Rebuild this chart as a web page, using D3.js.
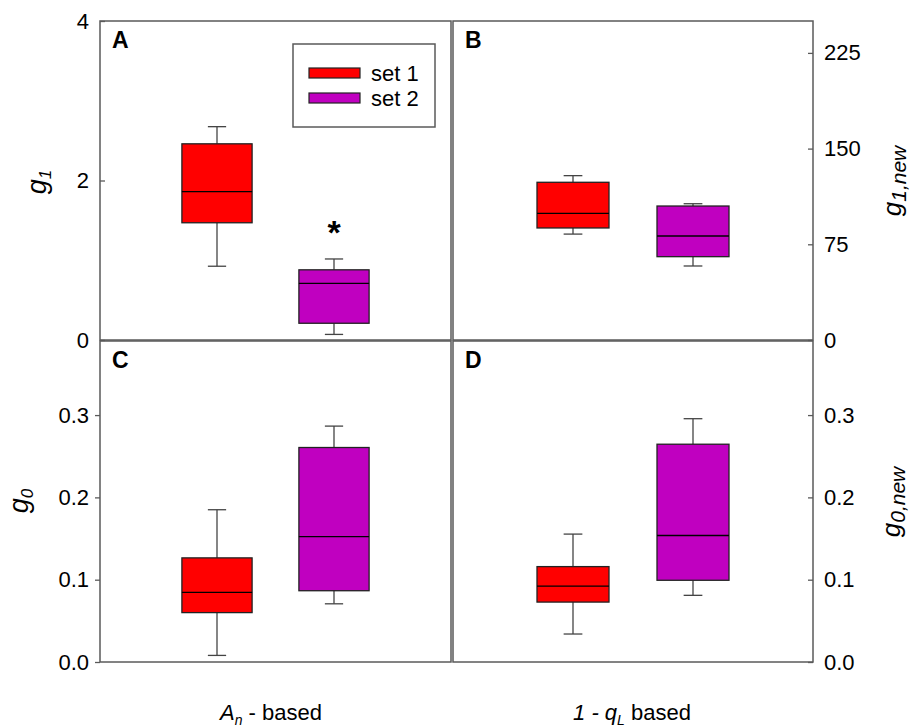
<!DOCTYPE html>
<html>
<head>
<meta charset="utf-8">
<script src="https://cdn.jsdelivr.net/npm/d3@7"></script>
<style>
  html, body { margin: 0; padding: 0; background: #fff; }
  svg { display: block; font-family: Arial, "Liberation Sans", sans-serif; }
</style>
</head>
<body>
<svg id="chart" width="914" height="727"></svg>
<script>
// Box statistics per series: [whisker low, Q1, median, Q3, whisker high]
const seriesNames = ["set 1", "set 2"];
const g1Stats    = [[0.925, 1.47, 1.86, 2.46, 2.675], [0.07, 0.21, 0.71, 0.88, 1.016]];
const g1NewStats = [[83, 87.8, 99.3, 123.6, 128.8], [58, 65.3, 81.5, 105, 106.8]];
const g0Stats    = [[0.008, 0.060, 0.0846, 0.1265, 0.185], [0.0707, 0.0866, 0.1524, 0.2606, 0.2866]];
const g0NewStats = [[0.034, 0.0728, 0.0923, 0.1159, 0.1554], [0.081, 0.0993, 0.1537, 0.2646, 0.2956]];
const g1Ticks    = [0, 2, 4];
const g1NewTicks = [0, 75, 150, 225];
const g0Ticks    = [0.0, 0.1, 0.2, 0.3];
const panelLetters = ["A", "B", "C", "D"];
const significantSeries = ["set 2"]; // marked with an asterisk in panel A

const colors = d3.scaleOrdinal().domain(seriesNames).range(["#ff0000", "#c000c0"]);

const svg = d3.select("#chart");
const frameColor = "#5a5a5a";
const boxStroke = "#222";
const whiskerColor = "#444";
const tickFont = 22;

function drawPanel(cfg) {
  const g = svg.append("g");
  const x = d3.scalePoint().domain(seriesNames).range([cfg.x0, cfg.x1]).padding(1);
  const y = d3.scaleLinear().domain(cfg.domain).range([cfg.y1, cfg.y0]);
  const w = cfg.x1 - cfg.x0;
  const boxW = w * 0.2;
  const capW = w * 0.052;

  // frame
  g.append("rect")
    .attr("x", cfg.x0).attr("y", cfg.y0)
    .attr("width", w).attr("height", cfg.y1 - cfg.y0)
    .attr("fill", "none").attr("stroke", frameColor).attr("stroke-width", 1.5);

  // axis
  if (cfg.ticks) {
    const axis = (cfg.side === "left" ? d3.axisLeft(y) : d3.axisRight(y))
      .tickValues(cfg.ticks)
      .tickFormat(cfg.format)
      .tickSizeOuter(0)
      .tickSizeInner(cfg.inward ? -5 : 5)
      .tickPadding(cfg.inward ? 11 : 6);
    const ax = g.append("g")
      .attr("transform", `translate(${cfg.side === "left" ? cfg.x0 : cfg.x1},0)`)
      .call(axis);
    ax.select(".domain").remove();
    ax.selectAll(".tick line").attr("stroke", frameColor).attr("stroke-width", 1.3);
    ax.selectAll(".tick text")
      .attr("fill", "#000").attr("font-size", tickFont)
      .attr("font-family", "Arial, 'Liberation Sans', sans-serif");
  }

  // boxes
  cfg.stats.forEach((s, i) => {
    const name = seriesNames[i];
    const cx = x(name);
    const [lo, q1, med, q3, hi] = s;
    const wg = g.append("g");
    // whiskers
    wg.append("line").attr("x1", cx).attr("x2", cx).attr("y1", y(hi)).attr("y2", y(q3))
      .attr("stroke", whiskerColor).attr("stroke-width", 1.3);
    wg.append("line").attr("x1", cx).attr("x2", cx).attr("y1", y(q1)).attr("y2", y(lo))
      .attr("stroke", whiskerColor).attr("stroke-width", 1.3);
    wg.append("line").attr("x1", cx - capW / 2).attr("x2", cx + capW / 2).attr("y1", y(hi)).attr("y2", y(hi))
      .attr("stroke", whiskerColor).attr("stroke-width", 1.3);
    wg.append("line").attr("x1", cx - capW / 2).attr("x2", cx + capW / 2).attr("y1", y(lo)).attr("y2", y(lo))
      .attr("stroke", whiskerColor).attr("stroke-width", 1.3);
    // box
    wg.append("rect")
      .attr("x", cx - boxW / 2).attr("y", y(q3))
      .attr("width", boxW).attr("height", y(q1) - y(q3))
      .attr("fill", colors(name)).attr("stroke", boxStroke).attr("stroke-width", 1.3);
    // median
    wg.append("line").attr("x1", cx - boxW / 2).attr("x2", cx + boxW / 2)
      .attr("y1", y(med)).attr("y2", y(med))
      .attr("stroke", "#000").attr("stroke-width", 1.3);

    if (cfg.star && significantSeries.includes(name)) {
      g.append("text").attr("x", cx).attr("y", y(hi) - 15)
        .attr("text-anchor", "middle").attr("font-size", 34).attr("font-weight", "bold")
        .text("*");
    }
  });

  // panel letter
  g.append("text").attr("x", cfg.x0 + 12).attr("y", cfg.y0 + 27)
    .attr("font-size", 23).attr("font-weight", "bold").text(cfg.letter);

  return { x, y, g };
}

drawPanel({ x0: 100, x1: 451, y0: 21, y1: 340, domain: [0, 4], stats: g1Stats,
  ticks: g1Ticks, format: d3.format("d"), side: "left", inward: true, letter: panelLetters[0], star: true });
drawPanel({ x0: 453, x1: 813, y0: 21, y1: 340, domain: [0, 250], stats: g1NewStats,
  ticks: g1NewTicks, format: d3.format("d"), side: "right", inward: true, letter: panelLetters[1] });
drawPanel({ x0: 100, x1: 451, y0: 341, y1: 662, domain: [0, 0.39], stats: g0Stats,
  ticks: g0Ticks, format: d3.format(".1f"), side: "left", inward: false, letter: panelLetters[2] });
drawPanel({ x0: 453, x1: 813, y0: 341, y1: 662, domain: [0, 0.39], stats: g0NewStats,
  ticks: g0Ticks, format: d3.format(".1f"), side: "right", inward: true, letter: panelLetters[3] });

// legend
const leg = svg.append("g");
leg.append("rect").attr("x", 293).attr("y", 44).attr("width", 142).attr("height", 83)
  .attr("fill", "#fff").attr("stroke", frameColor).attr("stroke-width", 1.5);
seriesNames.forEach((name, i) => {
  const yy = 73 + i * 25;
  leg.append("rect").attr("x", 309).attr("y", yy - 5).attr("width", 51).attr("height", 10)
    .attr("fill", colors(name)).attr("stroke", boxStroke).attr("stroke-width", 1.2);
  leg.append("text").attr("x", 371).attr("y", yy + 8).attr("font-size", 22).text(name);
});

// rotated axis titles: italic g with subscript
function yTitle(cx, cy, sub, mainSize, subSize) {
  const t = svg.append("text")
    .attr("transform", `translate(${cx},${cy}) rotate(-90)`)
    .attr("text-anchor", "middle")
    .attr("font-size", mainSize).attr("font-style", "italic");
  t.append("tspan").text("g");
  t.append("tspan").attr("font-size", subSize).attr("dy", 5).text(sub);
}
yTitle(46, 182, "1", 27, 17);
yTitle(28, 501, "0", 27, 17);
yTitle(901, 181, "1,new", 26, 21);
yTitle(900, 502, "0,new", 26, 21);

// x titles
const xt1 = svg.append("text").attr("x", 271).attr("y", 720).attr("text-anchor", "middle").attr("font-size", 22);
xt1.append("tspan").attr("font-style", "italic").text("A");
xt1.append("tspan").attr("font-style", "italic").attr("font-size", 14).attr("dy", 5).text("n");
xt1.append("tspan").attr("dy", -5).text(" - based");

const xt2 = svg.append("text").attr("x", 632).attr("y", 720).attr("text-anchor", "middle").attr("font-size", 22);
xt2.append("tspan").attr("font-style", "italic").text("1 - q");
xt2.append("tspan").attr("font-style", "italic").attr("font-size", 14).attr("dy", 5).text("L");
xt2.append("tspan").attr("dy", -5).text(" based");
</script>
</body>
</html>
